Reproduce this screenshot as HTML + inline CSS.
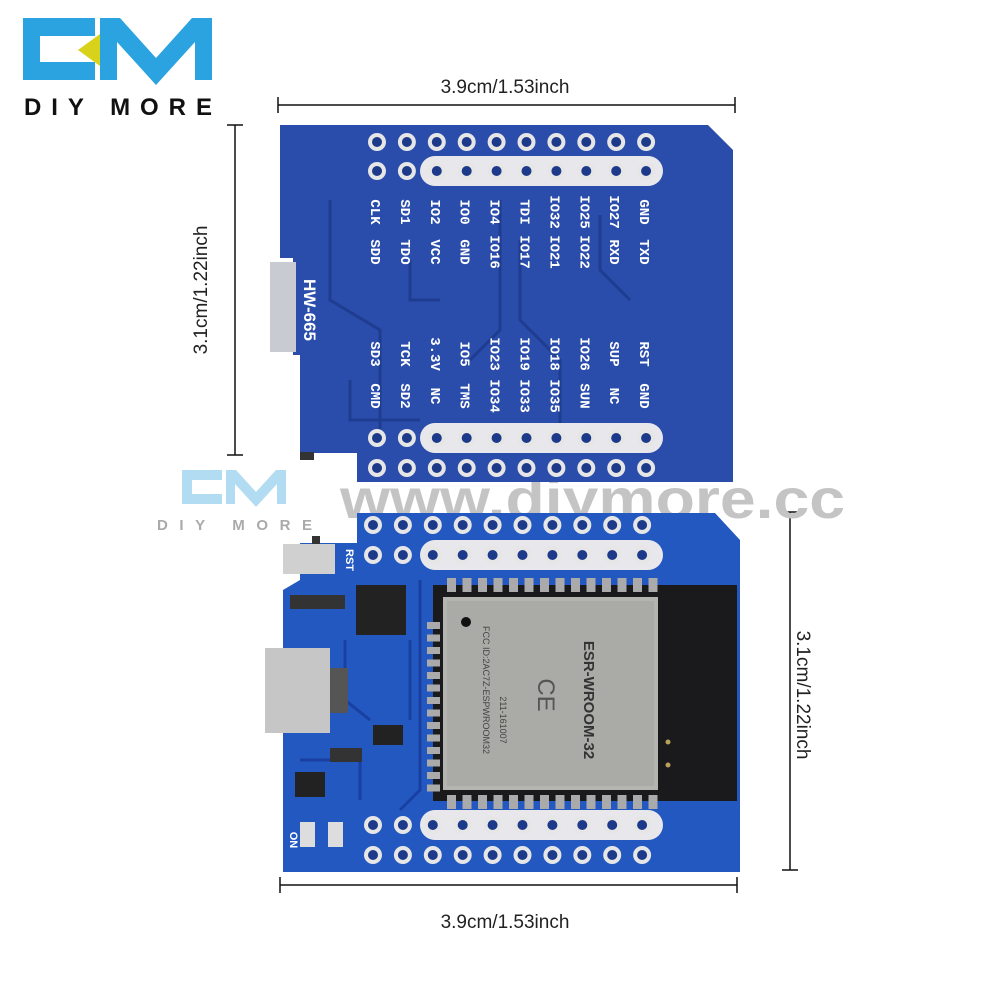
<!DOCTYPE html>
<html><head><meta charset="utf-8"><style>
html,body{margin:0;padding:0;background:#fff;width:1000px;height:1000px;overflow:hidden}
svg{display:block}
</style></head><body>
<svg id="s" width="1000" height="1000" viewBox="0 0 1000 1000" xmlns="http://www.w3.org/2000/svg" font-family="Liberation Sans, sans-serif">
<rect width="1000" height="1000" fill="#fff"/>
<!-- logo -->
<g fill="#2ba3e0">
<polygon points="23,18 95,18 95,36 40,36 40,62 95,62 95,80 23,80"/>
<polygon points="100,18 120,18 156,58 192,18 212,18 212,80 195,80 195,42 156,85 117,42 117,80 100,80"/>
</g>
<polygon points="78,50 100,34 100,66" fill="#d8d21a"/>
<text x="24" y="115" font-size="24" font-weight="bold" textLength="188" lengthAdjust="spacing" fill="#111">DIY MORE</text>
<!-- dimension lines -->
<g stroke="#111" stroke-width="1.5" fill="none">
<line x1="278" y1="105" x2="735" y2="105"/><line x1="278" y1="97" x2="278" y2="113"/><line x1="735" y1="97" x2="735" y2="113"/>
<line x1="235" y1="125" x2="235" y2="455"/><line x1="227" y1="125" x2="243" y2="125"/><line x1="227" y1="455" x2="243" y2="455"/>
<line x1="280" y1="885" x2="737" y2="885"/><line x1="280" y1="877" x2="280" y2="893"/><line x1="737" y1="877" x2="737" y2="893"/>
<line x1="790" y1="512" x2="790" y2="870"/><line x1="782" y1="512" x2="798" y2="512"/><line x1="782" y1="870" x2="798" y2="870"/>
</g>
<g font-size="19" fill="#222">
<text x="505" y="93" text-anchor="middle">3.9cm/1.53inch</text>
<text x="505" y="928" text-anchor="middle">3.9cm/1.53inch</text>
<text transform="translate(207,290) rotate(-90)" text-anchor="middle">3.1cm/1.22inch</text>
<text transform="translate(797,695) rotate(90)" text-anchor="middle">3.1cm/1.22inch</text>
</g>
<!-- watermark (behind) -->
<text x="340" y="518" font-size="56" font-weight="bold" fill="#c4c4c4" textLength="505" lengthAdjust="spacingAndGlyphs">www.diymore.cc</text>
<!-- top board -->
<path d="M280,125 L708,125 L733,150 L733,482 L357,482 L357,453 L300,453 L300,355 L293,355 L293,258 L280,258 Z" fill="#2a4caa"/>
<g stroke="#1d3a8a" stroke-width="3" fill="none" opacity="0.8">
<path d="M330,200 L330,300 L380,330 L380,430"/><path d="M500,200 L500,330 L470,360"/><path d="M520,240 L520,320 L560,360 L560,430"/>
<path d="M600,215 L600,270 L630,300"/><path d="M410,260 L410,300 L440,300"/><path d="M350,380 L350,420 L420,420"/>
</g>
<rect x="270" y="262" width="26" height="90" fill="#c8ccd2"/>
<rect x="300" y="452" width="14" height="8" fill="#333"/>
<g id="top"></g>
<!-- bottom board -->
<path d="M357,513 L715,513 L740,540 L740,872 L283,872 L283,590 L300,580 L300,543 L357,543 Z" fill="#2258c0"/>
<g stroke="#17399a" stroke-width="3" fill="none" opacity="0.8">
<path d="M420,580 L420,790 L400,810"/><path d="M345,640 L345,700 L370,720"/><path d="M300,760 L360,760 L360,800"/><path d="M410,640 L410,720"/>
</g>
<rect x="433" y="585" width="304" height="216" fill="#1a1a1c"/>
<rect x="443" y="597" width="215" height="193" fill="#b4b4b0"/>
<rect x="447" y="601" width="207" height="185" fill="#aaaaa6"/>
<circle cx="466" cy="622" r="5" fill="#111"/>
<text transform="translate(584,700) rotate(90)" text-anchor="middle" font-size="15" font-weight="bold" fill="#333">ESR-WROOM-32</text>
<text transform="translate(483,690) rotate(90)" text-anchor="middle" font-size="9" fill="#444">FCC ID:2AC7Z-ESPWROOM32</text>
<text transform="translate(500,720) rotate(90)" text-anchor="middle" font-size="9" fill="#444">211-161007</text>
<text transform="translate(538,695) rotate(90)" text-anchor="middle" font-size="24" fill="#555">CE</text>
<circle cx="668" cy="742" r="2.5" fill="#b9a15a"/><circle cx="668" cy="765" r="2.5" fill="#b9a15a"/>
<rect x="283" y="544" width="52" height="30" fill="#d0d0d0"/>
<rect x="312" y="536" width="8" height="8" fill="#333"/>
<text transform="translate(346,560) rotate(90)" text-anchor="middle" font-size="11" font-weight="bold" fill="#fff">RST</text>
<rect x="356" y="585" width="50" height="50" fill="#222"/>
<rect x="265" y="648" width="65" height="85" fill="#c6c6c6"/>
<rect x="330" y="668" width="18" height="45" fill="#555"/>
<rect x="373" y="725" width="30" height="20" fill="#222"/>
<rect x="330" y="748" width="32" height="14" fill="#333"/>
<rect x="295" y="772" width="30" height="25" fill="#222"/>
<rect x="300" y="822" width="15" height="25" fill="#ddd"/><rect x="328" y="822" width="15" height="25" fill="#ddd"/>
<rect x="290" y="595" width="55" height="14" fill="#333"/>
<text transform="translate(290,840) rotate(90)" text-anchor="middle" font-size="11" font-weight="bold" fill="#fff">ON</text>
<g id="bot"></g>
<g fill="#9fd3ef" fill-opacity="0.8">
<polygon points="182,470 222,470 222,480 192,480 192,494 222,494 222,504 182,504"/>
<polygon points="226,470 236,470 256,492 276,470 286,470 286,504 277,504 277,484 256,507 235,484 235,504 226,504"/>
</g>
<text x="157" y="530" font-size="15" font-weight="bold" textLength="155" lengthAdjust="spacing" fill="#aaa">DIY MORE</text>
</svg>
<script>
var NS="http://www.w3.org/2000/svg";
function el(p,t,a){var e=document.createElementNS(NS,t);for(var k in a)e.setAttribute(k,a[k]);p.appendChild(e);return e;}
function pin(g,x,y){el(g,"circle",{cx:x,cy:y,r:9,fill:"#e6e6e6"});el(g,"circle",{cx:x,cy:y,r:5,fill:"#1d3a8a"});}
function rows(g,x0,ys,stripes){
 stripes.forEach(function(s){el(g,"rect",{x:s[0],y:s[1]-15,width:s[2]-s[0],height:30,rx:15,fill:"#e8e8ec"});});
 ys.forEach(function(y){for(var i=0;i<10;i++)pin(g,x0+i*29.9,y);});
}
var t=document.getElementById("top");
rows(t,377,[142,171,438,468],[[420,171,663],[420,438,663]]);
var lab1=[["CLK","SD1","IO2","IO0","IO4","TDI","IO32","IO25","IO27","GND"],["SDD","TDO","VCC","GND","IO16","IO17","IO21","IO22","RXD","TXD"],
["SD3","TCK","3.3V","IO5","IO23","IO19","IO18","IO26","SUP","RST"],["CMD","SD2","NC","TMS","IO34","IO33","IO35","SUN","NC","GND"]];
var ly=[212,252,354,396];
lab1.forEach(function(r,j){r.forEach(function(s,i){var x=377+i*29.9;var e=el(t,"text",{transform:"translate("+(x-6)+","+ly[j]+") rotate(90)","text-anchor":"middle","font-size":"14","font-weight":"bold",fill:"#fff","font-family":"Liberation Mono, monospace"});e.textContent=s;});});
var h=el(t,"text",{transform:"translate(304,310) rotate(90)","text-anchor":"middle","font-size":"17","font-weight":"bold",fill:"#fff"});h.textContent="HW-665";
var b=document.getElementById("bot");
rows(b,373,[525,555,825,855],[[420,555,663],[420,825,663]]);
for(var i=0;i<14;i++){el(b,"rect",{x:447+i*15.5,y:578,width:9,height:14,fill:"#aaa"});el(b,"rect",{x:447+i*15.5,y:795,width:9,height:14,fill:"#aaa"});}
for(var i=0;i<14;i++){el(b,"rect",{x:427,y:622+i*12.5,width:13,height:7,fill:"#aaa"});}
</script>
</body></html>
